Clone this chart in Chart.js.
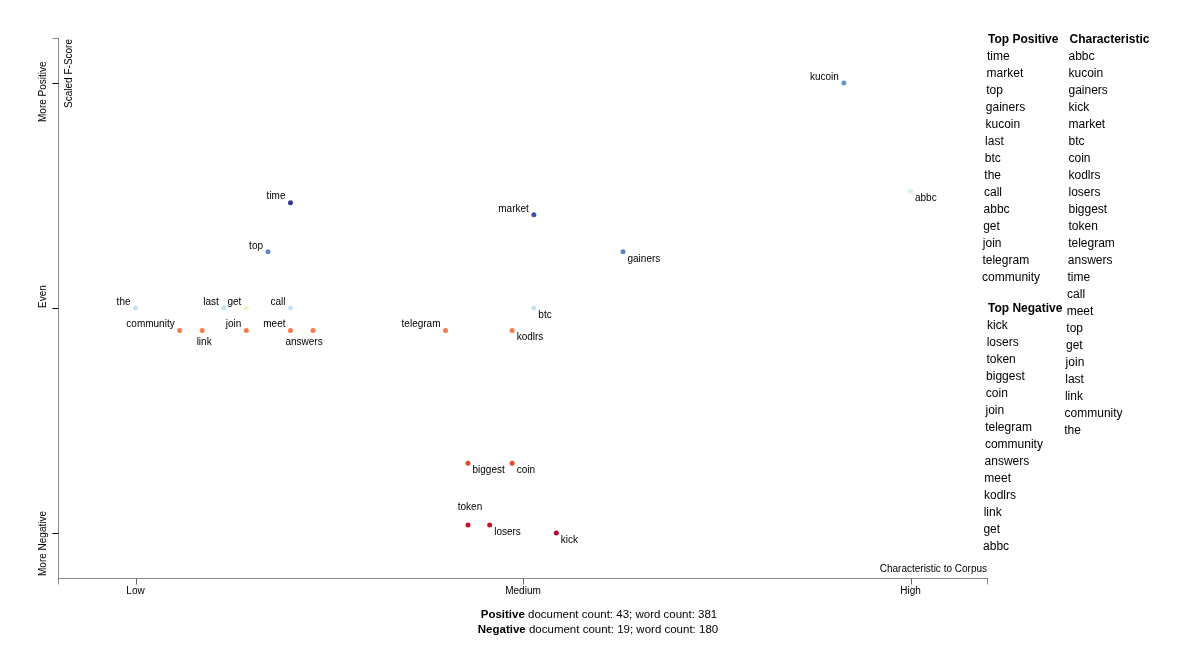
<!DOCTYPE html>
<html>
<head>
<meta charset="utf-8">
<script src="https://cdn.jsdelivr.net/npm/chart.js@4.4.0/dist/chart.umd.min.js"></script>
<style>
  html, body { margin: 0; padding: 0; background: #fff; }
  #wrap { width: 1200px; height: 650px; }
</style>
</head>
<body>
<div id="wrap"><canvas id="c" width="1200" height="650"></canvas></div>
<script>
// ---------- DATA ----------
const terms = ['kucoin','abbc','time','market','top','gainers','the','last','get','call','btc',
  'community','link','join','meet','answers','telegram','kodlrs','biggest','coin','token','losers','kick'];
const xValues = [0.914, 1.0, 0.2, 0.514, 0.171, 0.629, 0.0, 0.114, 0.143, 0.2, 0.514,
  0.057, 0.086, 0.143, 0.2, 0.229, 0.4, 0.486, 0.429, 0.486, 0.429, 0.457, 0.543];
const yValues = [1.0, 0.76, 0.734, 0.707, 0.625, 0.625, 0.5, 0.5, 0.5, 0.5, 0.5,
  0.45, 0.45, 0.45, 0.45, 0.45, 0.45, 0.45, 0.155, 0.155, 0.018, 0.018, 0.0];
const pointColors = ['#6496c8','#d8efee','#313695','#3b53a4','#5b8ac1','#5a85c0','#c6e3ee','#c6e3ee','#f1f6c6','#c6e3ee','#c8e6f0',
  '#f57c4a','#f57c4a','#f57c4a','#f57c4a','#f57c4a','#f57c4a','#f57c4a','#e34933','#e34933','#c3152a','#c3152a','#b1072a'];

const xTicks = [0, 0.5, 1];
const xTickLabels = ['Low', 'Medium', 'High'];
const yTicks = [0, 0.5, 1];
const yTickLabels = ['More Negative', 'Even', 'More Positive'];

const topPositive = ['time','market','top','gainers','kucoin','last','btc','the','call','abbc','get','join','telegram','community'];
const topNegative = ['kick','losers','token','biggest','coin','join','telegram','community','answers','meet','kodlrs','link','get','abbc'];
const characteristic = ['abbc','kucoin','gainers','kick','market','btc','coin','kodlrs','losers','biggest','token','telegram',
  'answers','time','call','meet','top','get','join','last','link','community','the'];

const posDocs = 43, posWords = 381, negDocs = 19, negWords = 180;

// ---------- STYLE ----------
const FONT = '"Liberation Sans", Arial, Helvetica, sans-serif';
// label placement: 'ul' = left-above, 'lr' = right-below
const labelPlacement = {
  kucoin:'ul', abbc:'lr', time:'ul', market:'ul', top:'ul', gainers:'lr', the:'ul', last:'ul', get:'ul', call:'ul', btc:'lr',
  community:'ul', link:'below', join:'ul', meet:'ul', answers:'belowLeft', telegram:'ul', kodlrs:'lr',
  biggest:'lr', coin:'lr', token:'above', losers:'lr', kick:'lr'
};

const overlay = {
  id: 'overlay',
  afterDatasetsDraw(chart) {
    const ctx = chart.ctx;
    const xs = chart.scales.x, ys = chart.scales.y;
    const ca = chart.chartArea;
    ctx.save();

    // ---- term labels ----
    const meta = chart.getDatasetMeta(0);
    ctx.font = '10px ' + FONT;
    ctx.fillStyle = '#000';
    ctx.textBaseline = 'middle';
    meta.data.forEach((pt, i) => {
      const t = terms[i];
      const p = labelPlacement[t];
      let x = pt.x, y = pt.y;
      if (p === 'ul') { ctx.textAlign = 'right'; x -= 5; y -= 6; }
      else if (p === 'lr') { ctx.textAlign = 'left'; x += 4.5; y += 7; }
      else if (p === 'below') { ctx.textAlign = 'left'; x -= 5.5; y += 12; }
      else if (p === 'belowLeft') { ctx.textAlign = 'left'; x -= 27.5; y += 12; }
      else if (p === 'above') { ctx.textAlign = 'center'; x += 2; y -= 18; }
      ctx.fillText(t, x, y);
    });

    // ---- axes ----
    const left = Math.round(ca.left) + 0.5;
    const bottom = Math.round(ca.bottom) + 0.5;
    ctx.strokeStyle = '#888';
    ctx.lineWidth = 1;
    ctx.beginPath();
    ctx.moveTo(left, ca.top); ctx.lineTo(left, bottom);
    ctx.moveTo(left - 6, Math.round(ca.top) + 0.5); ctx.lineTo(left, Math.round(ca.top) + 0.5);
    ctx.moveTo(ca.left, bottom); ctx.lineTo(ca.right, bottom);
    ctx.moveTo(left, bottom); ctx.lineTo(left, bottom + 6);
    ctx.moveTo(Math.round(ca.right) - 0.5, bottom); ctx.lineTo(Math.round(ca.right) - 0.5, bottom + 6);
    ctx.stroke();

    // y ticks
    ctx.strokeStyle = '#000';
    ctx.beginPath();
    yTicks.forEach(v => {
      const py = Math.round(ys.getPixelForValue(v)) + 0.5;
      ctx.moveTo(left - 6, py); ctx.lineTo(left, py);
    });
    ctx.stroke();
    // x ticks
    ctx.strokeStyle = '#666';
    ctx.beginPath();
    xTicks.forEach(v => {
      const px = Math.round(xs.getPixelForValue(v)) + 0.5;
      ctx.moveTo(px, bottom); ctx.lineTo(px, bottom + 6);
    });
    ctx.stroke();

    // x tick labels
    ctx.fillStyle = '#000';
    ctx.font = '10px ' + FONT;
    ctx.textAlign = 'center';
    ctx.textBaseline = 'middle';
    xTicks.forEach((v, i) => {
      ctx.fillText(xTickLabels[i], xs.getPixelForValue(v), bottom + 13);
    });

    // y tick labels (rotated)
    const yLabelShift = [43, 0, 39];
    yTicks.forEach((v, i) => {
      const py = ys.getPixelForValue(v) + yLabelShift[i];
      ctx.save();
      ctx.translate(43, py);
      ctx.rotate(-Math.PI / 2);
      ctx.textAlign = 'left';
      ctx.textBaseline = 'middle';
      ctx.fillText(yTickLabels[i], 0, 0);
      ctx.restore();
    });

    // axis titles
    ctx.save();
    ctx.translate(69.5, ca.top + 1);
    ctx.rotate(-Math.PI / 2);
    ctx.textAlign = 'right';
    ctx.textBaseline = 'middle';
    ctx.fillText('Scaled F-Score', 0, 0);
    ctx.restore();

    ctx.textAlign = 'right';
    ctx.textBaseline = 'middle';
    ctx.fillText('Characteristic to Corpus', ca.right - 1, ca.bottom - 9);

    // ---- footer ----
    function mixedLine(bold, rest, cx, cy) {
      ctx.font = 'bold 11.5px ' + FONT;
      const w1 = ctx.measureText(bold).width;
      ctx.font = '11.5px ' + FONT;
      const w2 = ctx.measureText(rest).width;
      const x0 = cx - (w1 + w2) / 2;
      ctx.textAlign = 'left';
      ctx.textBaseline = 'middle';
      ctx.font = 'bold 11.5px ' + FONT;
      ctx.fillText(bold, x0, cy);
      ctx.font = '11.5px ' + FONT;
      ctx.fillText(rest, x0 + w1, cy);
    }
    mixedLine('Positive', ' document count: ' + posDocs + '; word count: ' + posWords, 599, 614.5);
    mixedLine('Negative', ' document count: ' + negDocs + '; word count: ' + negWords, 598, 630);

    // ---- side lists ----
    function column(header, items, x, y0, drift) {
      ctx.textAlign = 'left';
      ctx.textBaseline = 'middle';
      ctx.font = 'bold 12px ' + FONT;
      ctx.fillText(header, x + 1, y0);
      ctx.font = '12px ' + FONT;
      items.forEach((t, i) => {
        ctx.fillText(t, x - drift(i), y0 + 17 * (i + 1));
      });
    }
    column('Top Positive', topPositive, 987, 40, i => i * 0.38);
    column('Top Negative', topNegative, 987, 309, i => i * 0.3);
    column('Characteristic', characteristic, 1068.5, 40, i => (i < 11 ? 0 : (i - 10) * 0.36));

    ctx.restore();
  }
};

new Chart(document.getElementById('c'), {
  type: 'scatter',
  data: {
    datasets: [{
      data: xValues.map((x, i) => ({ x: x, y: yValues[i] })),
      pointBackgroundColor: pointColors,
      pointBorderWidth: 0,
      pointBorderColor: 'rgba(0,0,0,0)',
      pointRadius: 2.5,
      pointHoverRadius: 2.5
    }]
  },
  options: {
    responsive: false,
    animation: false,
    events: [],
    layout: { padding: { left: 58, right: 212, top: 38, bottom: 72 } },
    plugins: { legend: { display: false }, tooltip: { enabled: false } },
    scales: {
      x: { type: 'linear', min: -0.1, max: 1.1, display: false },
      y: { type: 'linear', min: -0.1, max: 1.1, display: false }
    }
  },
  plugins: [overlay]
});
</script>
</body>
</html>
